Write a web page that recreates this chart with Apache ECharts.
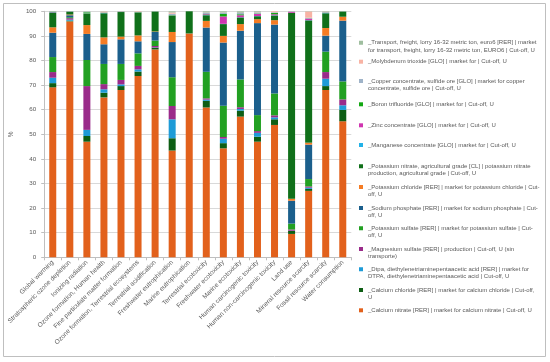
<!DOCTYPE html>
<html>
<head>
<meta charset="utf-8">
<script src="https://cdn.jsdelivr.net/npm/echarts@6/dist/echarts.min.js"></script>
<style>html,body{margin:0;padding:0;background:#fff;}#c{width:550px;height:362px;}</style>
</head>
<body>
<div id="c"></div>
<script>
// ---- Data ----
var categories = ["Global warming","Stratospheric ozone depletion","Ionizing radiation","Ozone formation, Human health","Fine particulate matter formation","Ozone formation, Terrestrial ecosystems","Terrestrial acidification","Freshwater eutrophication","Marine eutrophication","Terrestrial ecotoxicity","Freshwater ecotoxicity","Marine ecotoxicity","Human carcinogenic toxicity","Human non-carcinogenic toxicity","Land use","Mineral resource scarcity","Fossil resource scarcity","Water consumption"];

// series names, stacking order bottom -> top
var seriesNames = [
  "_Calcium nitrate [RER] | market for calcium nitrate | Cut-off, U",
  "_Calcium chloride [RER] | market for calcium chloride | Cut-off, U",
  "_Dtpa, diethylenetriaminepentaacetic acid [RER] | market for DTPA, diethylenetriaminepentaacetic acid | Cut-off, U",
  "_Magnesium sulfate [RER] | production | Cut-off, U (sin transporte)",
  "_Potassium sulfate [RER] | market for potassium sulfate | Cut-off, U",
  "_Sodium phosphate [RER] | market for sodium phosphate | Cut-off, U",
  "_Potassium chloride [RER] | market for potassium chloride | Cut-off, U",
  "_Potassium nitrate, agricultural grade [CL] | potassium nitrate production, agricultural grade | Cut-off, U",
  "_Manganese concentrate [GLO] | market for | Cut-off, U",
  "_Zinc concentrate [GLO] | market for | Cut-off, U",
  "_Boron trifluoride [GLO] | market for | Cut-off, U",
  "_Copper concentrate, sulfide ore [GLO] | market for copper concentrate, sulfide ore | Cut-off, U",
  "_Molybdenum trioxide [GLO] | market for | Cut-off, U",
  "_Transport, freight, lorry 16-32 metric ton, euro6 [RER] | market for transport, freight, lorry 16-32 metric ton, EURO6 | Cut-off, U"
];
// legend text as wrapped in the reference
var legendText = [
  "_Calcium nitrate [RER] | market for calcium nitrate | Cut-off, U",
  "_Calcium chloride [RER] | market for calcium chloride | Cut-off,\nU",
  "_Dtpa, diethylenetriaminepentaacetic acid [RER] | market for\nDTPA, diethylenetriaminepentaacetic acid | Cut-off, U",
  "_Magnesium sulfate [RER] | production | Cut-off, U (sin\ntransporte)",
  "_Potassium sulfate [RER] | market for potassium sulfate | Cut-\noff, U",
  "_Sodium phosphate [RER] | market for sodium phosphate | Cut-\noff, U",
  "_Potassium chloride [RER] | market for potassium chloride | Cut-\noff, U",
  "_Potassium nitrate, agricultural grade [CL] | potassium nitrate\nproduction, agricultural grade | Cut-off, U",
  "_Manganese concentrate [GLO] | market for | Cut-off, U",
  "_Zinc concentrate [GLO] | market for | Cut-off, U",
  "_Boron trifluoride [GLO] | market for | Cut-off, U",
  "_Copper concentrate, sulfide ore [GLO] | market for copper\nconcentrate, sulfide ore | Cut-off, U",
  "_Molybdenum trioxide [GLO] | market for | Cut-off, U",
  "_Transport, freight, lorry 16-32 metric ton, euro6 [RER] | market\nfor transport, freight, lorry 16-32 metric ton, EURO6 | Cut-off, U"
];

var calciumNitrate   = [69.1,95.9,47.0,65.0,68.0,73.7,84.5,43.4,91.0,60.9,44.3,57.2,47.0,53.8,9.5,27.0,68.0,55.3];
var calciumChloride  = [1.7,0.3,2.3,1.9,1.6,1.8,0.7,5.0,0,2.7,2.1,2.4,2.0,2.3,1.2,0.8,1.6,4.6];
var dtpa             = [2.2,0.4,2.5,1.4,0.7,0.9,0.1,7.7,0,0.5,1.8,0.7,1.6,0.8,0.1,0.5,3.0,1.9];
var magnesiumSulfate = [2.3,0.6,17.8,2.1,1.8,1.4,0.6,5.4,0,0.5,0.7,0.7,0.7,0.8,0.5,0.5,2.7,2.4];
var potassiumSulfate = [6.1,0.4,10.6,8.2,6.5,5.1,2.2,11.7,0,10.8,12.7,11.3,6.5,8.9,2.4,3.0,8.3,7.3];
var sodiumPhosphate  = [9.9,0.8,10.6,8.0,10.0,4.9,3.5,14.3,0,18.0,25.7,19.8,37.4,28.0,9.3,14.0,6.5,24.7];
var potassiumChloride= [2.2,0.3,3.6,2.8,1.1,2.4,0.2,4.1,0,2.7,2.7,2.7,1.6,1.8,0.8,0.8,3.1,1.6];
var potassiumNitrate = [6.0,1.1,4.5,9.8,10.0,9.3,8.1,6.5,9.0,2.3,4.8,2.7,1.2,1.9,75.6,49.7,6.0,2.1];
var manganese        = [0.1,0.05,0.1,0.1,0.05,0.05,0,0.1,0,0.1,0.1,0.1,0.1,0.1,0,0.1,0.1,0];
var zinc             = [0.1,0.05,0.1,0.1,0.05,0.05,0,0.1,0,0.3,3.0,0.8,0.8,0.4,0.4,0.6,0.1,0];
var boron            = [0.1,0.05,0.5,0.1,0.05,0.1,0,0.2,0,0.1,1.0,0.4,0.2,0.5,0,0.1,0.1,0];
var copper           = [0.1,0,0.2,0.1,0.05,0.05,0.05,0.5,0,0.5,0.5,0.5,0.4,0.3,0.1,0.3,0.2,0.05];
var molybdenum       = [0,0,0,0.3,0.05,0.2,0,0.5,0,0.1,0.1,0.1,0.1,0.4,0,2.5,0.1,0];
var transport        = [0.1,0.05,0.2,0.1,0.05,0.05,0.05,0.5,0,0.5,0.5,0.6,0.4,0,0.1,0.1,0.2,0.05];

var seriesValues = [calciumNitrate,calciumChloride,dtpa,magnesiumSulfate,potassiumSulfate,sodiumPhosphate,potassiumChloride,potassiumNitrate,manganese,zinc,boron,copper,molybdenum,transport];

// ---- Style ----
var colors = ['#E2611C','#0D5E14','#1E9BD7','#9A2B8A','#22A022','#1B5F8C','#F57C24','#10701A','#22B2E8','#D035B0','#12A812','#9FB3C8','#F8B3A4','#9FBE9F'];
// legend marker centre (y) per series
var legendMarkY = [310.3,290,269.3,249,228.3,208,187,166.3,145,125.3,104.3,81,61.7,42.7];
var LH = 7.5;

var chart = echarts.init(document.getElementById('c'), null, {renderer:'canvas'});

var legends = seriesNames.map(function(n, i){
  var two = legendText[i].indexOf('\n') >= 0;
  return {
    show: true,
    orient: 'vertical',
    left: 359,
    top: legendMarkY[i] - LH/2,
    padding: 0,
    itemWidth: 4,
    itemHeight: two ? 2*LH : 4,
    // for two-line entries the square sits beside the first line
    icon: two ? 'path://M0,1.75h4v4h-4zM0,0L0.01,0M0,15L0.01,15' : 'rect',
    selectedMode: false,
    data: [n],
    formatter: function(){ return legendText[i]; },
    textStyle: {
      fontFamily: 'Liberation Sans, Arial, sans-serif',
      fontSize: 6,
      lineHeight: LH,
      color: '#595959'
    }
  };
});

var option = {
  animation: false,
  backgroundColor: '#fff',
  color: colors,
  graphic: [{
    type: 'rect',
    shape: {x: 3.5, y: 3.5, width: 542, height: 353},
    style: {fill: 'none', stroke: '#BFBFBF', lineWidth: 1},
    silent: true
  }],
  legend: legends,
  grid: {left: 42, right: 198.7, top: 11.3, bottom: 104.7, containLabel: false},
  xAxis: {
    type: 'category',
    data: categories,
    axisLine: {show: true, lineStyle: {color: '#BFBFBF', width: 1}},
    axisTick: {show: true, length: 3, lineStyle: {color: '#BFBFBF'}},
    axisLabel: {
      interval: 0, rotate: 45, margin: 4,
      fontFamily: 'Liberation Sans, Arial, sans-serif',
      fontSize: 6.5, color: '#595959'
    }
  },
  yAxis: {
    type: 'value',
    min: 0, max: 100, interval: 10,
    name: '%',
    nameLocation: 'middle',
    nameGap: 18,
    nameTextStyle: {fontFamily: 'Liberation Sans, Arial, sans-serif', fontSize: 6.5, color: '#595959'},
    axisLine: {show: true, lineStyle: {color: '#BFBFBF', width: 1}},
    axisTick: {show: true, length: 3, lineStyle: {color: '#BFBFBF'}},
    splitLine: {show: true, lineStyle: {color: '#D9D9D9', width: 1}},
    axisLabel: {
      margin: 8,
      fontFamily: 'Liberation Sans, Arial, sans-serif',
      fontSize: 6.2, color: '#595959'
    }
  },
  series: seriesNames.map(function(n, i){
    return {
      name: n,
      type: 'bar',
      stack: 'total',
      barWidth: 7,
      data: seriesValues[i],
      itemStyle: {color: colors[i]}
    };
  })
};
chart.setOption(option);
</script>
</body>
</html>
